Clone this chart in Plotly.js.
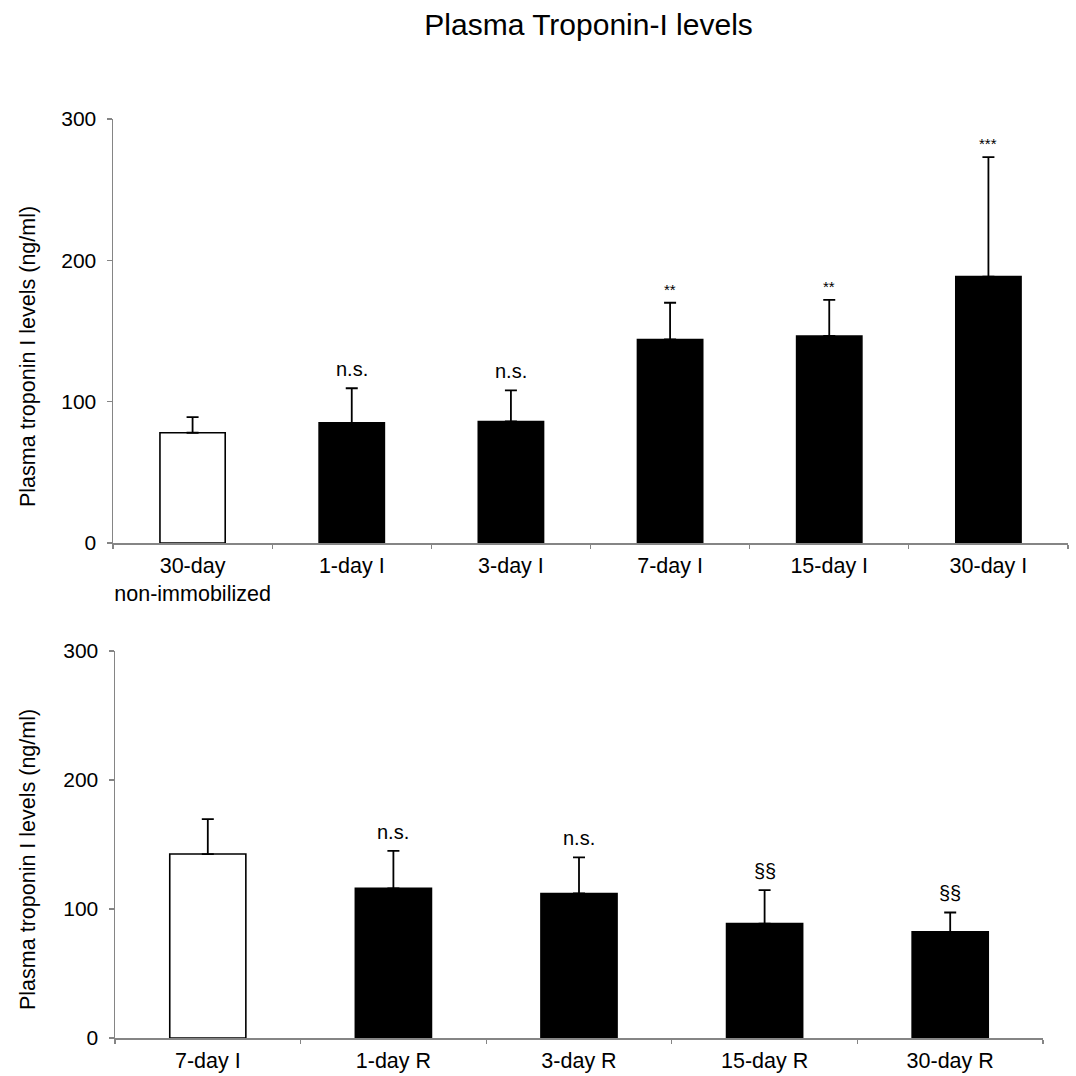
<!DOCTYPE html>
<html>
<head>
<meta charset="utf-8">
<script src="https://cdn.plot.ly/plotly-3.0.1.min.js"></script>
<style>html,body{margin:0;padding:0;background:#fff;}#chart{width:1076px;height:1076px;}</style>
</head>
<body>
<div id="chart"></div>
<script>
// ---- Data ----
const topCategories = ["30-day<br>non-immobilized", "1-day I", "3-day I", "7-day I", "15-day I", "30-day I"];
const topValues = [78, 85, 86, 144, 146.5, 188.5];
const topErrors = [11, 24.5, 22, 26, 25.5, 84.5];
const topMarks = ["", "n.s.", "n.s.", "**", "**", "***"];

const bottomCategories = ["7-day I", "1-day R", "3-day R", "15-day R", "30-day R"];
const bottomValues = [142.6, 116, 112, 88.7, 82.3];
const bottomErrors = [27, 29, 28, 26, 15];
const bottomMarks = ["", "n.s.", "n.s.", "§§", "§§"];

const yTicks = [0, 100, 200, 300];
const yTitle = "Plasma troponin I levels (ng/ml)";
const chartTitle = "Plasma Troponin-I levels";

// ---- Styling ----
const FONT = "Liberation Sans, Arial, sans-serif";
const AXIS_GREY = "#858585";

function barColors(n) { return Array.from({length: n}, (_, i) => i === 0 ? "#ffffff" : "#000000"); }

function barTrace(cats, vals, errs, xa, ya) {
  return {
    type: "bar",
    x: cats, y: vals,
    xaxis: xa, yaxis: ya,
    width: 0.41,
    marker: { color: barColors(cats.length), line: { color: "#000000", width: 1.6 } },
    error_y: { type: "data", symmetric: false, array: errs, arrayminus: errs.map(() => 0),
               color: "#000000", thickness: 1.8, width: 6 },
    hoverinfo: "skip",
    showlegend: false
  };
}

function marks(cats, vals, errs, labels, xref, yref) {
  const out = [];
  labels.forEach((t, i) => {
    if (!t) return;
    const isStar = t.indexOf("*") >= 0;
    out.push({
      x: cats[i], y: vals[i] + errs[i], xref: xref, yref: yref,
      text: t, showarrow: false, yanchor: "bottom",
      yshift: isStar ? 3 : 6,
      font: { family: FONT, size: isStar ? 15 : 20, color: "#000" }
    });
  });
  return out;
}

function yTitleAnn(yCenterPx) {
  return {
    xref: "paper", yref: "paper", x: 28 / 1076, y: 1 - yCenterPx / 1076,
    xanchor: "center", yanchor: "middle", textangle: -90, showarrow: false,
    text: yTitle, font: { family: FONT, size: 21.5, color: "#000" }
  };
}

const xCommon = {
  type: "category", tickson: "boundaries", ticks: "outside", ticklen: 4,
  tickcolor: AXIS_GREY, tickwidth: 1.2, showline: true, linecolor: AXIS_GREY, linewidth: 1.5,
  showgrid: false, zeroline: false, tickfont: { family: FONT, size: 21.5, color: "#000" },
  tickangle: 0, ticklabelstandoff: 3,
  fixedrange: true
};
const yCommon = {
  range: [0, 300], tickvals: yTicks, ticktext: yTicks.map(String), ticks: "outside", ticklen: 5,
  tickcolor: AXIS_GREY, tickwidth: 1.2, showline: true, linecolor: AXIS_GREY, linewidth: 1.5,
  showgrid: false, zeroline: false, tickfont: { family: FONT, size: 21, color: "#000" },
  ticklabelstandoff: 6,
  fixedrange: true
};

const layout = {
  width: 1076, height: 1076,
  margin: { l: 0, r: 0, t: 0, b: 0 },
  paper_bgcolor: "#ffffff", plot_bgcolor: "#ffffff",
  font: { family: FONT, color: "#000" },
  title: { text: chartTitle, x: 0.547, xanchor: "center", y: 1 - 24 / 1076, yanchor: "middle",
           font: { family: FONT, size: 30, color: "#000" } },
  xaxis: Object.assign({}, xCommon, { domain: [113 / 1076, 1068 / 1076], anchor: "y" }),
  yaxis: Object.assign({}, yCommon, { domain: [1 - 543 / 1076, 1 - 119 / 1076], anchor: "x" }),
  xaxis2: Object.assign({}, xCommon, { domain: [115 / 1076, 1043 / 1076], anchor: "y2" }),
  yaxis2: Object.assign({}, yCommon, { domain: [1 - 1038 / 1076, 1 - 651 / 1076], anchor: "x2" }),
  annotations: marks(topCategories, topValues, topErrors, topMarks, "x", "y")
    .concat(marks(bottomCategories, bottomValues, bottomErrors, bottomMarks, "x2", "y2"))
    .concat([yTitleAnn(357), yTitleAnn(860)])
};

Plotly.newPlot("chart", [
  barTrace(topCategories, topValues, topErrors, "x", "y"),
  barTrace(bottomCategories, bottomValues, bottomErrors, "x2", "y2")
], layout, { displayModeBar: false, staticPlot: true });
</script>
</body>
</html>
